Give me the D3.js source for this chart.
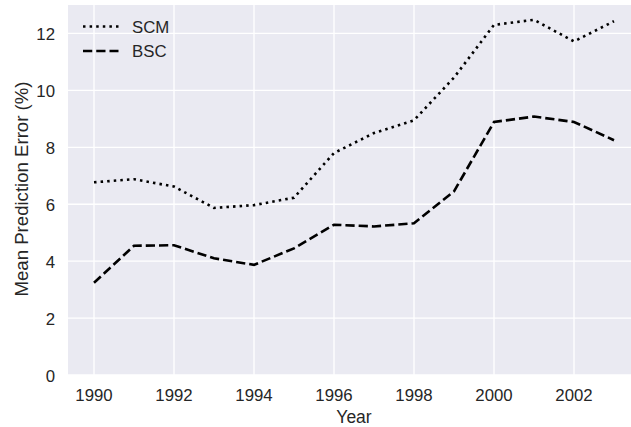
<!DOCTYPE html>
<html><head><meta charset="utf-8">
<script src="https://cdn.jsdelivr.net/npm/d3@7"></script>
<style>body{margin:0;background:#fff}svg{display:block}text{font-family:"Liberation Sans",Arial,sans-serif}</style>
</head><body><div id="c"></div>
<script>
const years = [1990,1991,1992,1993,1994,1995,1996,1997,1998,1999,2000,2001,2002,2003];
const scm = [6.77,6.88,6.62,5.87,5.97,6.23,7.8,8.5,8.95,10.45,12.3,12.48,11.72,12.43];
const bsc = [3.24,4.54,4.56,4.1,3.87,4.45,5.28,5.22,5.33,6.45,8.89,9.08,8.89,8.25];
const xTicks = [1990,1992,1994,1996,1998,2000,2002];
const yTicks = [0,2,4,6,8,10,12];
const seriesNames = ["SCM","BSC"];

const W=631,H=427;
const svg=d3.select("#c").append("svg").attr("width",W).attr("height",H);
const x=d3.scaleLinear().domain([1989.35,2003.65]).range([68,640]);
const y=d3.scaleLinear().domain([0,13]).range([375,5]);
svg.append("rect").attr("x",68).attr("y",5).attr("width",W-68).attr("height",370).attr("fill","#EAEAF2");
const g=svg.append("g");
g.selectAll(".gx").data(xTicks).enter().append("line").attr("x1",d=>x(d)).attr("x2",d=>x(d)).attr("y1",5).attr("y2",375).attr("stroke","#fff").attr("stroke-width",1.3);
g.selectAll(".gy").data(yTicks).enter().append("line").attr("x1",68).attr("x2",W).attr("y1",d=>y(d)).attr("y2",d=>y(d)).attr("stroke","#fff").attr("stroke-width",1.3);
svg.selectAll(".xt").data(xTicks).enter().append("text").attr("x",d=>x(d)).attr("y",400.5).attr("text-anchor","middle").attr("font-size",16.8).attr("fill","#262626").text(d=>d);
svg.selectAll(".yt").data(yTicks).enter().append("text").attr("x",55).attr("y",d=>y(d)+6.5).attr("text-anchor","end").attr("font-size",16.8).attr("fill","#262626").text(d=>d);
svg.append("text").attr("x",354).attr("y",423).attr("text-anchor","middle").attr("font-size",17.5).attr("fill","#262626").text("Year");
svg.append("text").attr("transform","translate(27.7,189) rotate(-90)").attr("text-anchor","middle").attr("font-size",18.6).attr("fill","#262626").text("Mean Prediction Error (%)");
const line=d3.line().x((d,i)=>x(years[i])).y(d=>y(d));
const dashes=["2.5,4.1","9.25,4"];
[scm,bsc].forEach((s,k)=>{
  svg.append("path").attr("d",line(s)).attr("fill","none").attr("stroke","#000").attr("stroke-width",2.6).attr("stroke-dasharray",dashes[k]);
  svg.append("line").attr("x1",83).attr("x2",118.5).attr("y1",26.5+k*24.5).attr("y2",26.5+k*24.5).attr("stroke","#000").attr("stroke-width",2.6).attr("stroke-dasharray",dashes[k]);
  svg.append("text").attr("x",132).attr("y",33.3+k*23.6).attr("font-size",16.8).attr("fill","#262626").text(seriesNames[k]);
});
</script></body></html>
